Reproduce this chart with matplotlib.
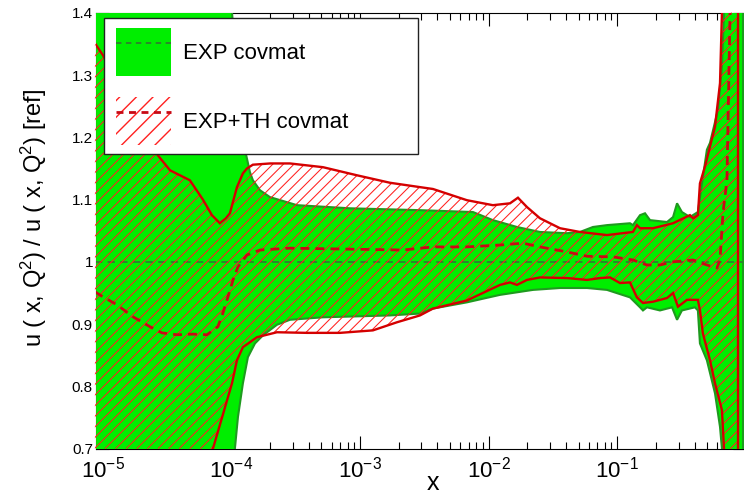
import numpy as np
import matplotlib
matplotlib.use("Agg")
import matplotlib.pyplot as plt
from matplotlib.patches import Patch, Rectangle
from matplotlib.lines import Line2D
from matplotlib.collections import LineCollection
from matplotlib.legend_handler import HandlerTuple
from matplotlib.ticker import FixedLocator, FixedFormatter, LogLocator, NullFormatter

plt.rcParams['font.family'] = ['Liberation Sans', 'DejaVu Sans']
plt.rcParams['mathtext.fontset'] = 'custom'
plt.rcParams['mathtext.rm'] = 'Liberation Sans'
plt.rcParams['mathtext.it'] = 'Liberation Sans:italic'
plt.rcParams['mathtext.bf'] = 'Liberation Sans:bold'
plt.rcParams['mathtext.default'] = 'regular'

# ---- EXP covmat: 68% band of u(x,Q^2)/u_ref ----
exp_up_x = [8.68e-6, 9.40e-5, 1.01e-4, 1.084e-4, 1.164e-4, 1.228e-4, 1.297e-4, 1.393e-4,
            1.469e-4, 1.667e-4, 1.991e-4, 3.236e-4, 8.356e-4, 2.924e-3, 7.551e-3, 1.079e-2,
            1.660e-2, 2.506e-2, 4.064e-2, 5.129e-2, 6.471e-2, 8.318e-2, 0.1256, 0.1324,
            0.1503, 0.1644, 0.1799, 0.2438, 0.2716, 0.2917, 0.3184, 0.3673, 0.4236, 0.4560,
            0.4977, 0.5260, 0.6067, 0.6516, 0.6761, 0.6998, 0.9506]
exp_up_y = [1.60, 1.60, 1.40, 1.33, 1.265, 1.211, 1.173, 1.144,
            1.131, 1.115, 1.104, 1.091, 1.086, 1.083, 1.080, 1.067,
            1.056, 1.048, 1.046, 1.048, 1.056, 1.059, 1.062, 1.059,
            1.075, 1.078, 1.067, 1.064, 1.072, 1.094, 1.080, 1.072, 1.080, 1.126,
            1.180, 1.191, 1.244, 1.313, 1.40, 1.60, 1.60]

exp_lo_x = [8.68e-6, 1.01e-4, 1.064e-4, 1.124e-4, 1.228e-4, 1.343e-4, 1.524e-4, 1.758e-4,
            2.259e-4, 2.851e-4, 5.152e-4, 1.709e-3, 2.924e-3, 3.690e-3, 6.776e-3, 1.225e-2,
            2.213e-2, 3.589e-2, 5.821e-2, 8.318e-2, 0.1256, 0.1503, 0.1585, 0.1702,
            0.2148, 0.2667, 0.2917, 0.3184, 0.4018, 0.4236, 0.4395, 0.4977, 0.5754,
            0.6295, 0.6516, 0.6761, 0.9506]
exp_lo_y = [0.50, 0.50, 0.70, 0.751, 0.805, 0.847, 0.869, 0.882,
            0.899, 0.907, 0.911, 0.914, 0.917, 0.925, 0.935, 0.947,
            0.955, 0.958, 0.958, 0.955, 0.943, 0.927, 0.922, 0.927,
            0.922, 0.927, 0.907, 0.922, 0.927, 0.922, 0.869, 0.842, 0.789,
            0.735, 0.70, 0.50, 0.50]

exp_cv_x = [8.68e-6, 0.9506]
exp_cv_y = [1.0, 1.0]

# ---- EXP+TH covmat ----
th_up_x = [8.68e-6, 1.00e-5, 1.36e-5, 1.94e-5, 2.68e-5, 3.33e-5, 4.75e-5, 6.00e-5,
           7.05e-5, 8.13e-5, 9.06e-5, 9.73e-5, 1.104e-4, 1.228e-4, 1.321e-4, 1.469e-4,
           2.000e-4, 2.851e-4, 5.152e-4, 9.462e-4, 1.709e-3, 2.924e-3, 3.690e-3, 6.776e-3,
           1.079e-2, 1.466e-2, 1.690e-2, 1.986e-2, 2.506e-2, 3.589e-2, 5.129e-2, 8.318e-2,
           0.1324, 0.1422, 0.1503, 0.1897, 0.2716, 0.3673, 0.3882, 0.4236, 0.4395, 0.4808,
           0.5754, 0.6295, 0.6516, 0.6761, 0.8690]
th_up_y = [1.351, 1.332, 1.284, 1.220, 1.171, 1.147, 1.131, 1.100,
           1.075, 1.062, 1.070, 1.078, 1.120, 1.142, 1.150, 1.156,
           1.158, 1.158, 1.152, 1.139, 1.127, 1.120, 1.117, 1.099,
           1.091, 1.094, 1.103, 1.088, 1.070, 1.054, 1.048, 1.043,
           1.048, 1.059, 1.054, 1.054, 1.062, 1.075, 1.070, 1.075, 1.126, 1.153,
           1.217, 1.287, 1.40, 1.60, 1.60]

th_lo_x = [8.68e-6, 6.58e-5, 7.18e-5, 8.59e-5, 1.01e-4, 1.104e-4, 1.228e-4, 1.578e-4,
           2.259e-4, 3.873e-4, 6.982e-4, 1.259e-3, 1.936e-3, 2.924e-3, 3.690e-3, 6.776e-3,
           1.225e-2, 1.466e-2, 1.660e-2, 1.986e-2, 2.506e-2, 4.064e-2, 5.821e-2, 7.345e-2,
           8.79e-2, 0.1050, 0.1256, 0.1422, 0.1585, 0.1897, 0.2438, 0.2716, 0.2965,
           0.3483, 0.4236, 0.4395, 0.4634, 0.5260, 0.5754, 0.6516, 0.6761, 0.6998, 0.8690]
th_lo_y = [0.50, 0.50, 0.70, 0.755, 0.805, 0.842, 0.863, 0.879,
           0.887, 0.886, 0.886, 0.890, 0.903, 0.914, 0.925, 0.938,
           0.963, 0.967, 0.963, 0.971, 0.975, 0.974, 0.971, 0.974,
           0.975, 0.966, 0.967, 0.943, 0.934, 0.936, 0.942, 0.950, 0.928,
           0.939, 0.939, 0.922, 0.885, 0.842, 0.805, 0.762, 0.70, 0.50, 0.50]

th_cv_x = [8.68e-6, 1.00e-5, 1.29e-5, 1.71e-5, 2.32e-5, 2.88e-5, 3.77e-5, 5.02e-5,
           6.46e-5, 7.85e-5, 8.59e-5, 9.40e-5, 1.03e-4, 1.124e-4, 1.321e-4, 1.667e-4,
           2.851e-4, 2.158e-3, 3.690e-3, 6.776e-3, 1.225e-2, 1.849e-2, 2.506e-2, 4.064e-2,
           5.821e-2, 9.27e-2, 0.1324, 0.1702, 0.2148, 0.2716, 0.3882, 0.4977, 0.5957,
           0.6295, 0.6637, 0.7129, 0.7534, 0.7798]
th_cv_y = [0.952, 0.944, 0.931, 0.912, 0.896, 0.886, 0.883, 0.884,
           0.883, 0.896, 0.918, 0.944, 0.971, 0.992, 1.011, 1.019,
           1.022, 1.019, 1.024, 1.024, 1.027, 1.030, 1.024, 1.016,
           1.009, 1.008, 1.003, 0.995, 0.995, 1.000, 1.003, 0.995, 0.990,
           1.003, 1.078, 1.131, 1.40, 1.60]

x_ticks = [1e-5, 1e-4, 1e-3, 1e-2, 1e-1]
y_ticks = [0.7, 0.8, 0.9, 1.0, 1.1, 1.2, 1.3, 1.4]
y_ticklabels = ['0.7', '0.8', '0.9', '1', '1.1', '1.2', '1.3', '1.4']

GREEN = '#00ee00'
GREEN_EDGE = '#1f9a1f'
GREEN_DASH = '#2f7f2f'
RED_LINE = '#d40000'
RED_HATCH = '#ff2020'
RED_DASH = '#c80a14'

fig = plt.figure(figsize=(7.44, 4.95), dpi=100)
ax = fig.add_axes([0.1286, 0.0935, 0.8739, 0.8808])
ax.set_xscale('log')
ax.set_xlim(8.8e-6, 1.0)
ax.set_ylim(0.7, 1.4)

# green band (fill + outline)
gx = list(exp_up_x) + list(exp_lo_x[::-1])
gy = list(exp_up_y) + list(exp_lo_y[::-1])
ax.fill(gx, gy, facecolor=GREEN, edgecolor=GREEN_EDGE, linewidth=1.5, zorder=1)
ax.plot(exp_cv_x, exp_cv_y, color=GREEN_DASH, linewidth=1.3,
        linestyle=(0, (4, 3)), zorder=1.5)

# red hatched band
rx = list(th_up_x) + list(th_lo_x[::-1])
ry = list(th_up_y) + list(th_lo_y[::-1])
red_poly = ax.fill(rx, ry, facecolor='none', edgecolor='none', zorder=2)[0]

# diagonal hatching drawn in pixel-square axes space, clipped to the band
ax_w_px, ax_h_px = 650.2, 436.0
spacing = 10.6
segs = []
for c in np.arange(-ax_h_px, ax_w_px + spacing, spacing):
    segs.append([(c / ax_w_px, 0.0), ((c + ax_h_px) / ax_w_px, 1.0)])
hatch = LineCollection(segs, colors=RED_HATCH, linewidths=0.75,
                       transform=ax.transAxes, zorder=2.1)
hatch.set_clip_path(red_poly)
ax.add_collection(hatch)

ax.plot(th_cv_x, th_cv_y, color=RED_DASH, linewidth=2.0,
        linestyle=(0, (3.2, 2.2)), zorder=2.5)
ax.fill(rx, ry, facecolor='none', edgecolor=RED_LINE, linewidth=1.7, zorder=3)

# axes styling
ax.set_axisbelow(True)
for sp in ax.spines.values():
    sp.set_zorder(0.5)
    sp.set_linewidth(0.8)
ax.xaxis.set_major_locator(FixedLocator(x_ticks))
ax.xaxis.set_minor_locator(LogLocator(base=10, subs=np.arange(2, 10), numticks=20))
ax.xaxis.set_minor_formatter(NullFormatter())
ax.yaxis.set_major_locator(FixedLocator(y_ticks))
ax.yaxis.set_major_formatter(FixedFormatter(y_ticklabels))
ax.tick_params(which='both', direction='in', top=True, right=True, width=0.8)
ax.tick_params(which='major', length=9.4)
ax.tick_params(which='minor', length=4.7)
ax.tick_params(axis='x', which='major', labelsize=16, pad=6)
ax.tick_params(axis='y', which='major', labelsize=11, pad=2)

ax.set_ylabel('u ( x, Q$^2$) / u ( x, Q$^2$) [ref]', fontsize=17)
ax.yaxis.set_label_coords(-0.095, 0.530)
ax.yaxis.label.set_va('center')
ax.set_xlabel('x', fontsize=18)
ax.xaxis.set_label_coords(0.519, -0.052)

# legend box
ax.add_patch(Rectangle((0.0128, 0.6759), 0.4829, 0.3119, transform=ax.transAxes,
                       facecolor='white', edgecolor='#222222', linewidth=1.0,
                       zorder=4))
h_exp = (Patch(facecolor=GREEN, edgecolor='none'),
         Line2D([], [], color=GREEN_DASH, linewidth=1.3, linestyle=(0, (3, 2.5))))
h_th = (Patch(facecolor='none', edgecolor=RED_HATCH, hatch='//', linewidth=0),
        Line2D([], [], color=RED_DASH, linewidth=2.0, linestyle=(0, (2.5, 2))))
leg = ax.legend([h_exp, h_th], ['EXP covmat', 'EXP+TH covmat'],
                handler_map={tuple: HandlerTuple(ndivide=1, pad=0)},
                loc='upper left', bbox_to_anchor=(116 / 744, 1 - 28 / 495),
                bbox_transform=fig.transFigure, borderaxespad=0, borderpad=0,
                frameon=False, fontsize=16, handlelength=2.48, handleheight=2.95,
                handletextpad=0.54, labelspacing=0.95)
leg.set_zorder(5)

fig.savefig('out.png', dpi=100)
